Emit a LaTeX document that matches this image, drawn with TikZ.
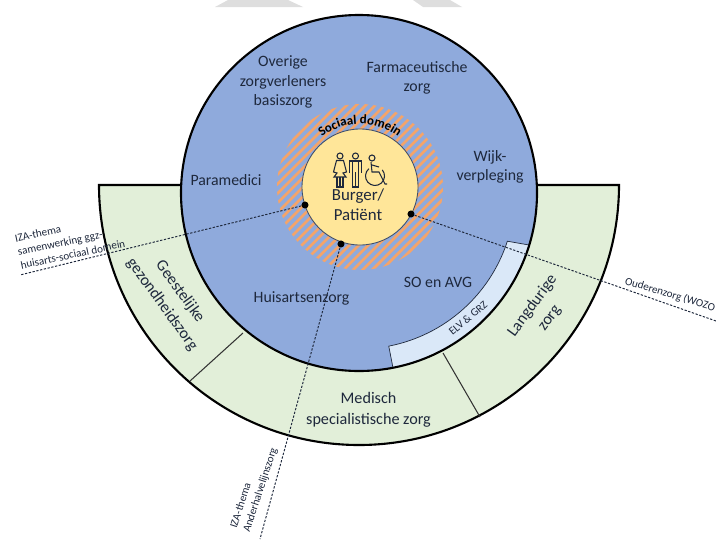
\documentclass[tikz,border=0pt]{standalone}
\usepackage{fontspec}
\setmainfont{Carlito}
\usetikzlibrary{decorations.text,calc}
\definecolor{zorgblue}{RGB}{143,170,220}
\definecolor{zorggreen}{RGB}{226,239,217}
\definecolor{zorgyellow}{RGB}{255,230,153}
\definecolor{zorglight}{RGB}{218,232,248}
\definecolor{zorgorange}{RGB}{244,164,106}
\definecolor{zorgtext}{RGB}{30,40,60}
\definecolor{markgray}{RGB}{222,222,222}

\begin{document}
\begin{tikzpicture}[x=0.02cm,y=0.02cm,
    % Node styles
    label/.style={font=\fontsize{9}{11.2}\selectfont, text=zorgtext, align=center, inner sep=0pt},
    large/.style={font=\fontsize{9.2}{12}\selectfont, text=zorgtext, align=center, inner sep=0pt},
    small/.style={font=\fontsize{6.3}{7.8}\selectfont, text=zorgtext, align=left, inner sep=0pt},
    dot/.style={circle, fill=black, inner sep=0pt, minimum size=4pt},
    % Line styles
    outline/.style={draw=black, line width=1.2pt},
    divider/.style={draw=black!80, line width=0.6pt},
    theme/.style={draw=zorgtext, line width=0.55pt, dash pattern=on 1.3pt off 0.9pt},
    icon/.style={draw=zorgtext, line width=0.6pt, fill=none}
]
\useasboundingbox (0,0) rectangle (716,539);

% Watermark
\fill[markgray] (215,532) -- (228,539) -- (288,539) -- (303,532) -- cycle;
\fill[markgray] (423,532) -- (413,539) -- (450,539) -- (462,532) -- cycle;

% Outer ring
\coordinate (ringc) at (358,354);
\coordinate (ringw) at (99,354);
\coordinate (ringe) at (618,354);
\path[fill=zorggreen] (ringw) arc[start angle=180, end angle=360, radius=260] -- cycle;
\draw[outline] (ringw) arc[start angle=180, end angle=360, radius=260] -- cycle;
\coordinate (divla) at (243,206);
\coordinate (divlb) at (190,158);
\coordinate (divra) at (443,186);
\coordinate (divrb) at (480,122);
\draw[divider] (divla) -- (divlb);
\draw[divider] (divra) -- (divrb);

% Blue circle
\coordinate (bluec) at (359,346);
\fill[zorgblue] (bluec) circle[radius=178];

% ELV band
\path[fill=zorglight, draw=zorgtext, line width=0.4pt] ($(bluec)+(-18:156)$) arc[start angle=-18, end angle=-79, radius=156]
    -- ($(bluec)+(-79:178)$) arc[start angle=-79, end angle=-17, radius=178] -- cycle;
\draw[outline] (bluec) circle[radius=178];

% Hatched ring
\coordinate (yellowc) at (360,352);
\begin{scope}
    \clip (yellowc) circle[radius=83];
    \foreach \s in {-18,...,18} {
        \draw[zorgorange, line width=1.6pt] ($(yellowc)+(\s*9.5,-130)+(-130,0)$) -- ($(yellowc)+(\s*9.5,130)+(130,0)$);
    }
\end{scope}

% Yellow circle
\node[circle, fill=zorgyellow, draw=zorgtext!70!zorgblue, line width=0.5pt, minimum size=116*0.02cm, inner sep=0pt] (burger) at (yellowc) {};
\node[label, font=\fontsize{9.6}{11.4}\selectfont] (burgertext) at (358,334) {Burger/\\Patiënt};
\path[decorate, decoration={text along path, text align=center, text={|\fontsize{7.4}{8}\selectfont\bfseries|Sociaal domein}}]
    ($(yellowc)+(140:63)$) arc[start angle=140, end angle=40, radius=63];

% People icons
\begin{scope}[shift={(340,369)}]
    \draw[icon] (0,14) circle[radius=3];
    \draw[icon] (-3.5,9.5) -- (3.5,9.5) -- (6.5,-2) -- (3,-3) -- (6,-7) -- (-6,-7) -- (-3,-3) -- (-6.5,-2) -- cycle;
    \draw[icon] (-3,-7) -- (-3,-17) -- (3,-17) -- (3,-7) (0,-7) -- (0,-17);
\end{scope}
\begin{scope}[shift={(355.5,369)}]
    \draw[icon] (0,14) circle[radius=3];
    \draw[icon] (-6,-3) -- (-6,9) -- (6,9) -- (6,-3);
    \draw[icon] (-3,9) -- (-3,-17) -- (3,-17) -- (3,9) (0,-17) -- (0,-2);
\end{scope}
\begin{scope}[shift={(371,369)}]
    \draw[icon] (1,12) circle[radius=3];
    \draw[icon] (0,8) -- (1,-2) -- (8,-2) -- (14,-14) -- (16,-14) (1,5) -- (8,3);
    \draw[icon] (-2.1,1.3) arc[start angle=130, end angle=400, radius=9.5];
\end{scope}

% Dots
\node[dot] (dotggz) at (305,334) {};
\node[dot] (dothuis) at (341,295) {};
\node[dot] (dotouder) at (411,325) {};
\coordinate (endggz) at (20,264);
\coordinate (endhuis) at (260,0);
\coordinate (endouder) at (716,218);

% Theme lines
\draw[theme] (dotggz) -- (endggz);
\draw[theme] (dothuis) -- (endhuis);
\draw[theme] (dotouder) -- (endouder);

% Labels
\node[label] (overige) at (283,457) {Overige\\zorgverleners\\basiszorg};
\node[label] (farma) at (417,461) {Farmaceutische\\zorg};
\node[label] (wijk) at (490,372) {Wijk-\\verpleging};
\node[label] (para) at (226,359) {Paramedici};
\node[label] (huisarts) at (301.5,241) {Huisartsenzorg};
\node[label] (soavg) at (438,257) {SO en AVG};
\node[large] (medisch) at (368.5,129.5) {Medisch\\specialistische zorg};
\node[large, font=\fontsize{9.2}{12.6}\selectfont, rotate=-54] (geest) at (171,241) {Geestelijke\\gezondheidszorg};
\node[large, rotate=54] (lang) at (541,227) {Langdurige\\zorg};
\node[small, align=center, rotate=40] (elv) at (468,221) {ELV \& GRZ};
\node[small, rotate=12] (izaggz) at (70,298) {IZA-thema\\samenwerking ggz-\\huisarts-sociaal domein};
\node[small, rotate=-17, anchor=west] (izaouder) at (625,258) {Ouderenzorg (WOZO};
\node[small, rotate=72] (izahuis) at (254,51) {IZA-thema\\Anderhalvelijnszorg};

\end{tikzpicture}
\end{document}
